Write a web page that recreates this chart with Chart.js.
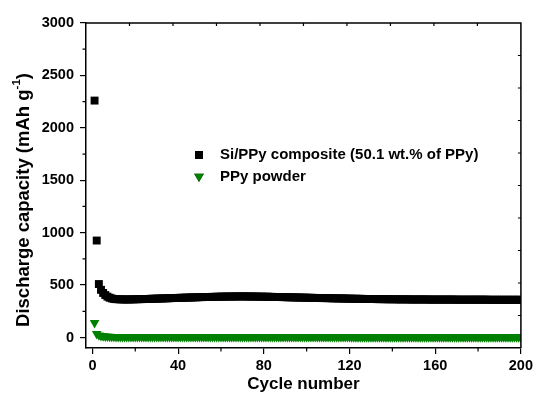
<!DOCTYPE html>
<html><head><meta charset="utf-8">
<script src="https://cdn.jsdelivr.net/npm/chart.js@4.4.0/dist/chart.umd.min.js"></script>
<style>html,body{margin:0;padding:0;background:#fff}#wrap{width:536px;height:396px}</style>
</head><body><div id="wrap"><canvas id="c" width="536" height="396"></canvas></div>
<script>
// ---- data ----
const siPPyLabel = 'Si/PPy composite (50.1 wt.% of PPy)';
const ppyLabel = 'PPy powder';
const siPPy = [
 2260, 925, 510, 455, 425, 405, 390, 380, 373, 368,
 366, 365, 364, 364, 363, 363, 363, 364, 364, 365,
 365, 366, 366, 367, 368, 368, 369, 370, 370, 371,
 372, 372, 373, 374, 374, 375, 376, 377, 377, 378,
 379, 379, 380, 381, 381, 382, 383, 383, 384, 385,
 385, 386, 386, 387, 387, 388, 388, 389, 389, 390,
 390, 390, 391, 391, 391, 391, 392, 392, 392, 392,
 392, 392, 391, 391, 391, 391, 390, 390, 390, 389,
 389, 389, 388, 388, 387, 387, 386, 386, 385, 385,
 384, 384, 383, 383, 382, 382, 381, 381, 380, 380,
 379, 379, 378, 378, 377, 377, 376, 376, 376, 375,
 375, 374, 374, 373, 373, 373, 372, 372, 371, 371,
 370, 370, 370, 369, 369, 369, 368, 368, 368, 367,
 367, 367, 366, 366, 366, 366, 365, 365, 365, 365,
 365, 364, 364, 364, 364, 364, 364, 363, 363, 363,
 363, 363, 363, 363, 363, 363, 362, 362, 362, 362,
 362, 362, 362, 362, 362, 362, 362, 362, 362, 361,
 361, 361, 361, 361, 361, 361, 361, 361, 361, 361,
 361, 361, 361, 361, 360, 360, 360, 360, 360, 360,
 360, 360, 360, 360, 360, 360, 360, 360, 360, 360
];
const ppy = [
 140, 35, 22, 16, 13, 11, 10, 9, 8, 8,
 7, 7, 7, 7, 7, 7, 7, 7, 7, 7,
 7, 7, 7, 7, 7, 7, 7, 7, 7, 7,
 6, 6, 6, 6, 6, 6, 6, 6, 6, 6,
 6, 6, 6, 6, 6, 6, 6, 6, 6, 6,
 6, 6, 6, 6, 6, 6, 6, 6, 6, 6,
 5, 5, 5, 5, 5, 5, 5, 5, 5, 5,
 5, 5, 5, 5, 5, 5, 5, 5, 5, 5,
 5, 5, 5, 5, 5, 5, 5, 5, 5, 5,
 5, 5, 5, 5, 5, 5, 5, 5, 5, 5,
 5, 5, 5, 5, 5, 5, 5, 5, 5, 5,
 5, 5, 5, 5, 5, 5, 5, 5, 5, 5,
 4, 4, 4, 4, 4, 4, 4, 4, 4, 4,
 4, 4, 4, 4, 4, 4, 4, 4, 4, 4,
 4, 4, 4, 4, 4, 4, 4, 4, 4, 4,
 4, 4, 4, 4, 4, 4, 4, 4, 4, 4,
 4, 4, 4, 4, 4, 4, 4, 4, 4, 4,
 4, 4, 4, 4, 4, 4, 4, 4, 4, 4,
 4, 4, 4, 4, 4, 4, 4, 4, 4, 4,
 4, 4, 4, 4, 4, 4, 4, 4, 4, 4
];
const cycles = siPPy.map((_, i) => i + 1); // cycle number = index + 1
const xTicks = [0, 40, 80, 120, 160, 200];
const xMinorTicks = [20, 60, 100, 140, 180];
const yTicks = [0, 500, 1000, 1500, 2000, 2500, 3000];
const yMinorTicks = [250, 750, 1250, 1750, 2250, 2750];
const xTitle = 'Cycle number';
const yTitleMain = 'Discharge capacity (mAh g';
const yTitleSup = '-1';
const yTitleEnd = ')';

// ---- styles ----
const FONT = "'Liberation Sans', Arial, sans-serif";
const BLACK = '#000000';
const GREEN = '#008000';

const framePlugin = {
  id: 'frame',
  afterDraw(chart) {
    const {ctx, chartArea: a, scales: {x, y}} = chart;
    ctx.save();
    ctx.strokeStyle = BLACK;
    ctx.lineWidth = 1.5;
    ctx.beginPath();
    ctx.moveTo(a.left, a.top); ctx.lineTo(a.right, a.top); ctx.lineTo(a.right, a.bottom);
    ctx.stroke();
    ctx.lineWidth = 1.2;
    ctx.beginPath();
    xMinorTicks.forEach(v => { const px = x.getPixelForValue(v); ctx.moveTo(px, a.bottom); ctx.lineTo(px, a.bottom + 3.5); });
    yMinorTicks.forEach(v => { const py = y.getPixelForValue(v); ctx.moveTo(a.left, py); ctx.lineTo(a.left - 3.5, py); });
    for (let k = 1; k < 10; k++) {
      const px = a.left + (a.right - a.left) * k / 10;
      ctx.moveTo(px, a.top); ctx.lineTo(px, a.top + 3);
      const py = a.top + (a.bottom - a.top) * k / 10;
      ctx.moveTo(a.right, py); ctx.lineTo(a.right - 3, py);
    }
    ctx.stroke();

    // y title with superscript
    ctx.fillStyle = BLACK;
    ctx.translate(24, 200);
    ctx.rotate(-Math.PI / 2);
    const f = 18.5, fs = 11.5;
    ctx.font = `bold ${f}px ${FONT}`;
    const w1 = ctx.measureText(yTitleMain).width;
    const w3 = ctx.measureText(yTitleEnd).width;
    ctx.font = `bold ${fs}px ${FONT}`;
    const w2 = ctx.measureText(yTitleSup).width;
    const total = w1 + w2 + w3;
    let sx = -total / 2;
    ctx.textBaseline = 'middle';
    ctx.textAlign = 'left';
    ctx.font = `bold ${f}px ${FONT}`;
    ctx.fillText(yTitleMain, sx, 0);
    ctx.font = `bold ${fs}px ${FONT}`;
    ctx.fillText(yTitleSup, sx + w1, -7);
    ctx.font = `bold ${f}px ${FONT}`;
    ctx.fillText(yTitleEnd, sx + w1 + w2, 0);
    ctx.restore();

    // legend
    ctx.save();
    chart.data.datasets.forEach((ds, i) => {
      const ly = 155 + i * 21.5;
      Chart.helpers.drawPoint(ctx, {pointStyle: ds.pointStyle, radius: ds.pointRadius, rotation: ds.rotation || 0, borderWidth: 0}, 199, ly);
      ctx.fillStyle = ds.backgroundColor;
      ctx.fill();
      ctx.fillStyle = BLACK;
      ctx.font = `bold 15px ${FONT}`;
      ctx.textBaseline = 'middle';
      ctx.textAlign = 'left';
      ctx.fillText(ds.label, 220, ly);
    });
    ctx.restore();
  }
};

new Chart(document.getElementById('c'), {
  type: 'scatter',
  data: {
    datasets: [
      {label: siPPyLabel, data: cycles.map((c, i) => ({x: c, y: siPPy[i]})), pointStyle: 'rect', pointRadius: 5.6,
       backgroundColor: BLACK, borderColor: BLACK, borderWidth: 0},
      {label: ppyLabel, data: cycles.map((c, i) => ({x: c, y: ppy[i]})), pointStyle: 'triangle', rotation: 180, pointRadius: 5.6,
       backgroundColor: GREEN, borderColor: GREEN, borderWidth: 0}
    ]
  },
  options: {
    responsive: false, animation: false, devicePixelRatio: 1,
    layout: {padding: {top: 23, right: 13, left: 0, bottom: 0}},
    plugins: {legend: {display: false}, tooltip: {enabled: false}},
    scales: {
      x: {
        type: 'linear', min: -3, max: 200,
        afterBuildTicks: s => { s.ticks = xTicks.map(v => ({value: v})); },
        afterFit: s => { s.height = 48; },
        grid: {drawOnChartArea: false, drawTicks: true, tickLength: 6, color: BLACK, lineWidth: 1.2},
        border: {display: true, color: BLACK, width: 1.5},
        ticks: {color: BLACK, font: {family: FONT, size: 14.5, weight: 'bold'}, padding: 3, maxRotation: 0, autoSkip: false,
                callback: v => String(v)},
        title: {display: true, text: xTitle, color: BLACK, font: {family: FONT, size: 17, weight: 'bold'}, padding: {top: 0, bottom: 1}}
      },
      y: {
        type: 'linear', min: -100, max: 3000,
        afterBuildTicks: s => { s.ticks = yTicks.map(v => ({value: v})); },
        afterFit: s => { s.width = 86; },
        grid: {drawOnChartArea: false, drawTicks: true, tickLength: 6, color: BLACK, lineWidth: 1.2},
        border: {display: true, color: BLACK, width: 1.5},
        ticks: {color: BLACK, font: {family: FONT, size: 14.5, weight: 'bold'}, padding: 6, autoSkip: false,
                callback: v => String(v)}
      }
    }
  },
  plugins: [framePlugin]
});
</script>
</body></html>
